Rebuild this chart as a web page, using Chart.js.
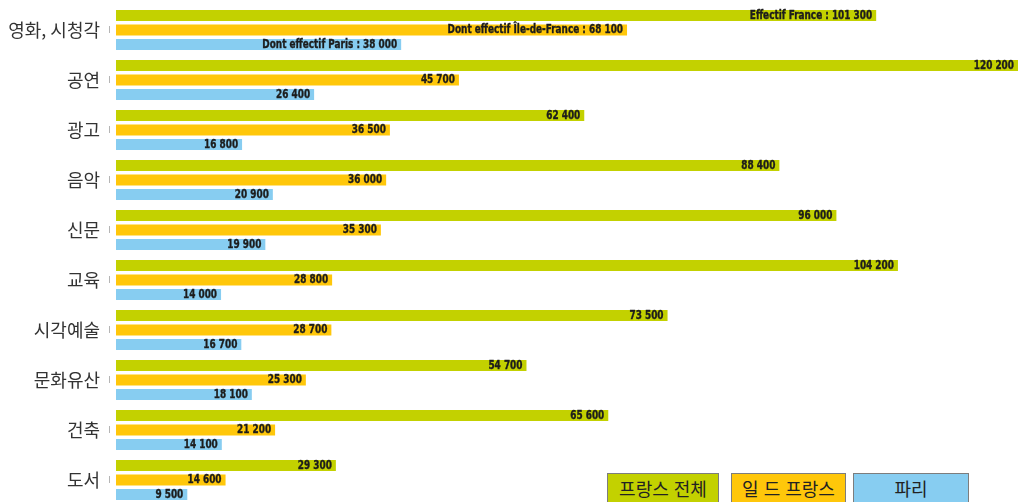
<!DOCTYPE html>
<html lang="ko">
<head>
<meta charset="UTF-8">
<meta name="viewport" content="width=device-width, initial-scale=1.0">
<title>문화 분야별 종사자 수</title>
<script src="https://cdn.jsdelivr.net/npm/chart.js"></script>
<style>
    html, body { margin: 0; padding: 0; background: #fff; overflow: hidden; }
    #wrap { position: relative; width: 1021px; height: 506px; }
    #jobsChart { display: block; }
    .key {
        position: absolute; top: 473px; height: 31px; box-sizing: border-box;
        border: 1px solid #7d7d7d; color: #222; text-align: center;
        font: 18px "Noto Sans CJK KR", sans-serif; line-height: 28px;
    }
</style>
</head>
<body>

<div id="wrap">
    <canvas id="jobsChart" width="1021" height="506"></canvas>
    <div class="key" style="left:607px; width:112px; background:#c3d100;">프랑스 전체</div>
    <div class="key" style="left:731px; width:115px; background:#ffc70a;">일 드 프랑스</div>
    <div class="key" style="left:853px; width:116px; background:#87cdf1;">파리</div>
</div>

<script>
    const categories = ['영화, 시청각', '공연', '광고', '음악', '신문', '교육', '시각예술', '문화유산', '건축', '도서'];
    const franceTotal = [101300, 120200, 62400, 88400, 96000, 104200, 73500, 54700, 65600, 29300];
    const ileDeFrance = [68100, 45700, 36500, 36000, 35300, 28800, 28700, 25300, 21200, 14600];
    const paris = [38000, 26400, 16800, 20900, 19900, 14000, 16700, 18100, 14100, 9500];
    const seriesNames = ['프랑스 전체', '일 드 프랑스', '파리'];
    // the first bar of each series carries a longer caption
    const firstPrefixes = ['Effectif France : ', 'Dont effectif Île-de-France : ', 'Dont effectif Paris : '];
    const xMax = 120200;

    function fmt(v) {
        return String(v).replace(/\B(?=(\d{3})+(?!\d))/g, ' ');
    }

    // value text at the inner end of each bar, squeezed a little to look condensed
    const barLabels = {
        id: 'barLabels',
        afterDatasetsDraw(chart) {
            const ctx = chart.ctx;
            const squeeze = 0.86;
            ctx.save();
            ctx.font = 'bold 11.5px "DejaVu Sans Condensed", "DejaVu Sans", sans-serif';
            ctx.fillStyle = '#1c1c1c';
            ctx.strokeStyle = '#1c1c1c';
            ctx.lineWidth = 0.35;
            ctx.textAlign = 'right';
            ctx.textBaseline = 'middle';
            chart.data.datasets.forEach((ds, i) => {
                chart.getDatasetMeta(i).data.forEach((bar, j) => {
                    const text = (j === 0 ? firstPrefixes[i] : '') + fmt(ds.data[j]);
                    ctx.save();
                    ctx.translate(bar.x - 4, bar.y + 0.5);
                    ctx.scale(squeeze, 1);
                    ctx.fillText(text, 0, 0);
                    ctx.strokeText(text, 0, 0);
                    ctx.restore();
                });
            });
            ctx.restore();
        }
    };

    // little grey mark next to each category name
    const catMarks = {
        id: 'catMarks',
        afterDraw(chart) {
            const ctx = chart.ctx;
            const y = chart.scales.y;
            ctx.save();
            ctx.strokeStyle = '#b5b5b5';
            ctx.lineWidth = 1;
            categories.forEach((c, i) => {
                const cy = y.getPixelForValue(i);
                ctx.beginPath();
                ctx.moveTo(109.5, cy - 4);
                ctx.lineTo(109.5, cy + 3);
                ctx.stroke();
            });
            ctx.restore();
        }
    };

    new Chart(document.getElementById('jobsChart'), {
        type: 'bar',
        data: {
            labels: categories,
            datasets: [
                { label: seriesNames[0], data: franceTotal, backgroundColor: '#c3d100' },
                { label: seriesNames[1], data: ileDeFrance, backgroundColor: '#ffc70a' },
                { label: seriesNames[2], data: paris, backgroundColor: '#87cdf1' }
            ]
        },
        options: {
            indexAxis: 'y',
            responsive: false,
            animation: false,
            categoryPercentage: 0.87,
            barPercentage: 0.76,
            layout: { padding: { top: 5, right: 3, bottom: 1, left: 0 } },
            plugins: {
                legend: { display: false },
                tooltip: { enabled: false }
            },
            scales: {
                x: { display: false, min: 0, max: xMax },
                y: {
                    grid: { display: false, drawTicks: false },
                    border: { display: false },
                    ticks: {
                        padding: 16,
                        color: '#333',
                        font: { family: '"Noto Sans CJK KR", sans-serif', size: 18 }
                    },
                    afterFit(scale) {
                        scale.width = 116;
                        scale.paddingTop = 0;
                        scale.paddingBottom = 0;
                    }
                }
            }
        },
        plugins: [barLabels, catMarks]
    });
</script>

</body>
</html>
